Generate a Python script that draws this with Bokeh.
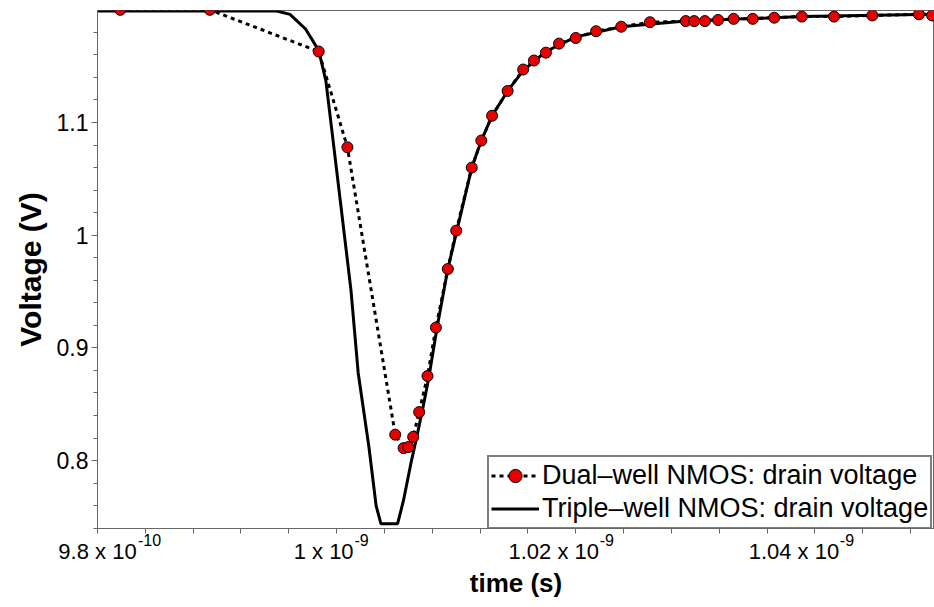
import numpy as np
from bokeh.plotting import figure
from bokeh.models import Range1d, FixedTicker, Legend, LegendItem, LinearAxis
from bokeh.embed import file_html
from bokeh.resources import INLINE

# ---- data (time in picoseconds, voltage in volts) ----
dual_time_ps = [981.9, 989.4, 998.5, 1000.9, 1004.9, 1005.6, 1006.0, 1006.4, 1006.9, 1007.6,
                1008.3, 1009.3, 1010.0, 1011.3, 1012.1, 1013.0, 1014.3, 1015.6, 1016.5, 1017.5,
                1018.6, 1020.0, 1021.7, 1023.8, 1026.2, 1029.2, 1029.9, 1030.8, 1031.9, 1033.2,
                1034.8, 1036.6, 1038.9, 1041.6, 1044.8, 1048.7, 1049.8]
dual_voltage = [1.200, 1.200, 1.163, 1.078, 0.823, 0.811, 0.812, 0.821, 0.843, 0.875,
                0.918, 0.970, 1.004, 1.060, 1.084, 1.106, 1.128, 1.147, 1.155, 1.162,
                1.170, 1.175, 1.181, 1.185, 1.189, 1.190, 1.190, 1.190, 1.191, 1.192,
                1.192, 1.193, 1.194, 1.194, 1.195, 1.196, 1.195]

triple_time_ps = [980.0, 995.0, 996.1, 997.4, 998.5, 999.1, 999.6, 1000.3, 1001.2, 1001.8,
                  1002.7, 1003.3, 1003.7, 1005.1, 1005.6, 1006.2, 1006.7, 1007.2, 1007.7, 1008.4,
                  1009.3, 1010.1, 1011.3, 1012.1, 1013.0, 1014.3, 1015.6, 1017.5, 1020.0, 1023.8,
                  1029.2, 1038.9, 1050.0]
triple_voltage = [1.199, 1.199, 1.196, 1.183, 1.164, 1.137, 1.093, 1.031, 0.951, 0.878,
                  0.812, 0.760, 0.744, 0.744, 0.765, 0.797, 0.821, 0.846, 0.873, 0.918,
                  0.970, 1.006, 1.060, 1.084, 1.106, 1.128, 1.146, 1.163, 1.176, 1.185,
                  1.190, 1.194, 1.196]

x_major = [9.8e-10, 1.0e-9, 1.02e-9, 1.04e-9]
x_label_base = ["9.8 x 10", "1 x 10", "1.02 x 10", "1.04 x 10"]
x_label_exp = ["-10", "-9", "-9", "-9"]
y_major = [0.8, 0.9, 1.0, 1.1]
y_labels = ["0.8", "0.9", "1", "1.1"]

dual_label = "Dual\u2013well NMOS: drain voltage"
triple_label = "Triple\u2013well NMOS: drain voltage"

dual_t = [t * 1e-12 for t in dual_time_ps]
triple_t = [t * 1e-12 for t in triple_time_ps]

FONT = "Liberation Sans"
AXIS_COL = "#666666"
X_START, X_END = 0.98e-9, 1.05e-9
Y_START, Y_END = 0.7397, 1.1994
FRAME_W = 934 - 97
PX_PER_X = FRAME_W / (X_END - X_START)

p = figure(width=934, height=607, output_backend="svg", toolbar_location=None,
           x_range=Range1d(X_START, X_END), y_range=Range1d(Y_START, Y_END),
           min_border_left=97, min_border_right=0, min_border_top=10, min_border_bottom=79)
p.xgrid.visible = False
p.ygrid.visible = False
p.outline_line_color = AXIS_COL
p.outline_line_width = 1
p.background_fill_color = "white"
p.border_fill_color = "white"

# lines and markers
dual_line = p.line(dual_t, dual_voltage, line_color="black", line_width=3,
                   line_dash="4 4")
triple_line = p.line(triple_t, triple_voltage, line_color="black", line_width=3)
dual_pts = p.scatter(dual_t, dual_voltage, size=11, fill_color="#e80000",
                     line_color="black", line_width=1)

# ---- x axis: tick marks + mantissa text; a second axis carries the exponents ----
# horizontal placement (pixels relative to each tick) of the mantissa / exponent centres
base_center_px = [0, -13, -22, -21]
exp_center_px = [52, 25, 31, 32]
base_pos = [t + d / PX_PER_X for t, d in zip(x_major, base_center_px)]
exp_pos = [t + d / PX_PER_X for t, d in zip(x_major, exp_center_px)]
tick_marks = list(np.arange(X_START, X_END + 1e-13, 0.004e-9))

xa = p.xaxis[0]
xa.ticker = FixedTicker(ticks=base_pos, minor_ticks=tick_marks)
xa.major_label_overrides = dict(zip(base_pos, x_label_base))
xa.major_label_text_font = FONT
xa.major_label_text_font_size = "22px"
xa.major_label_text_color = "black"
xa.major_label_standoff = 5
xa.axis_line_color = AXIS_COL
xa.major_tick_line_color = None
xa.major_tick_out = 0
xa.major_tick_in = 0
xa.minor_tick_line_color = AXIS_COL
xa.minor_tick_out = 5
xa.minor_tick_in = 0

xb = LinearAxis(ticker=FixedTicker(ticks=exp_pos, minor_ticks=[]),
                major_label_overrides=dict(zip(exp_pos, x_label_exp)))
xb.major_label_text_font = FONT
xb.major_label_text_font_size = "16px"
xb.major_label_text_color = "black"
xb.major_label_standoff = -33
xb.axis_line_color = None
xb.major_tick_line_color = None
xb.minor_tick_line_color = None
xb.major_tick_out = 0
xb.major_tick_in = 0
xb.axis_label = "time (s)"
xb.axis_label_text_font = FONT
xb.axis_label_text_font_style = "bold"
xb.axis_label_text_font_size = "26px"
xb.axis_label_text_color = "black"
xb.axis_label_standoff = 19
p.add_layout(xb, "below")

# ---- y axis ----
y_minor = [round(0.74 + 0.02 * i, 2) for i in range(24)]
p.yaxis.ticker = FixedTicker(ticks=y_major, minor_ticks=y_minor)
p.yaxis.major_label_overrides = dict(zip(y_major, y_labels))
p.yaxis.major_label_text_font = FONT
p.yaxis.major_label_text_font_size = "23px"
p.yaxis.major_label_text_color = "black"
p.yaxis.major_label_standoff = 3
p.yaxis.axis_label = "Voltage (V)"
p.yaxis.axis_label_text_font = FONT
p.yaxis.axis_label_text_font_style = "bold"
p.yaxis.axis_label_text_font_size = "30px"
p.yaxis.axis_label_text_color = "black"
p.yaxis.axis_label_standoff = 7
p.yaxis.axis_line_color = AXIS_COL
p.yaxis.major_tick_line_color = AXIS_COL
p.yaxis.minor_tick_line_color = AXIS_COL
p.yaxis.major_tick_out = 6
p.yaxis.major_tick_in = 0
p.yaxis.minor_tick_out = 4
p.yaxis.minor_tick_in = 0

legend = Legend(items=[LegendItem(label=dual_label, renderers=[dual_line, dual_pts]),
                       LegendItem(label=triple_label, renderers=[triple_line])],
                location=(390, -1))
legend.label_text_font = FONT
legend.label_text_font_size = "27px"
legend.label_text_color = "black"
legend.glyph_width = 48
legend.glyph_height = 33
legend.label_standoff = 3
legend.padding = 2
legend.spacing = 0
legend.margin = 0
legend.border_line_color = "black"
legend.border_line_width = 2
legend.background_fill_color = "white"
legend.background_fill_alpha = 1.0
p.add_layout(legend, "center")

open("out.html", "w").write(file_html(p, INLINE))
